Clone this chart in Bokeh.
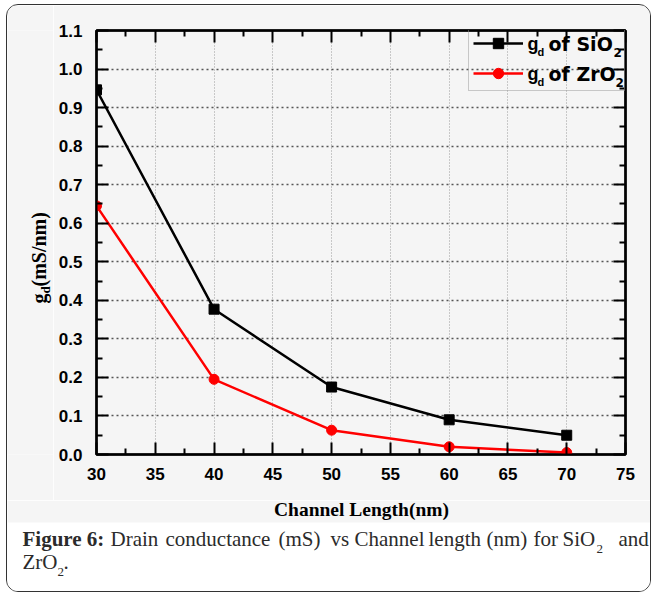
import math
from bokeh.plotting import figure
from bokeh.layouts import column, row
from bokeh.models import (Range1d, LinearAxis, FixedTicker, PrintfTickFormatter,
                          CustomJSTickFormatter, Label, BoxAnnotation, Legend, LegendItem)
from bokeh.embed import file_html
from bokeh.resources import INLINE

# ---- data ----
channel_length = [30, 40, 50, 60, 70]
gd_sio2 = [0.946, 0.377, 0.175, 0.090, 0.050]
gd_zro2 = [0.645, 0.195, 0.063, 0.020, 0.005]
x_ticks = [30, 35, 40, 45, 50, 55, 60, 65, 70, 75]
y_ticks = [0.0, 0.1, 0.2, 0.3, 0.4, 0.5, 0.6, 0.7, 0.8, 0.9, 1.0, 1.1]

BG = "#f5f5f5"
CAP = "#2b2b2b"
K = 0.34   # empirical baseline correction (fraction of font size)

# ---- page layout (page pixel coordinates) ----
OX, OY = 7, 5            # content origin inside the rounded border
CW, CH = 643, 586        # content size
TOP_H = 495              # chart row height (page y 5..500)
YL_W = 46                # y-title strip width (page x 7..53)
FL, FR, FT, FB = 96, 625, 30, 454   # plot frame in page px
X0, X1, Y0, Y1 = 30, 75, 0.0, 1.1


def mx(px):
    return X0 + (px - FL) / (FR - FL) * (X1 - X0)


def my(py):
    return Y0 + (FB - py) / (FB - FT) * (Y1 - Y0)


def lab(fig, s, px, py, size, font="Liberation Serif", style="normal", color=CAP,
        vertical=False, align="left", data=False):
    """Place text whose baseline starts at page pixel (px, py)."""
    if vertical:
        px = px - K * size
    else:
        py = py - K * size
    x, y = (mx(px), my(py)) if data else (px, py)
    fig.add_layout(Label(x=x, y=y, text=s, text_font=font,
                         text_font_size=f"{size}px", text_font_style=style,
                         text_color=color, angle=(math.pi / 2 if vertical else 0.0),
                         text_align=align, text_baseline="alphabetic"))


def page_fig(x0, y0, w, h, fill, top=0, bottom=0):
    """Figure without axes; data coordinates are page pixels."""
    f = figure(width=w, height=h, x_range=Range1d(x0, x0 + w),
               y_range=Range1d(y0 + h - bottom, y0 + top),
               output_backend="svg", toolbar_location=None, min_border=0,
               min_border_top=top, min_border_bottom=bottom,
               x_axis_location=None, y_axis_location=None)
    f.xgrid.visible = False
    f.ygrid.visible = False
    f.outline_line_color = None
    f.background_fill_color = fill
    f.border_fill_color = fill
    return f


# ---- main chart ----
MAIN_X = OX + YL_W
p = figure(width=CW - YL_W, height=TOP_H, x_range=Range1d(X0, X1), y_range=Range1d(Y0, Y1),
           output_backend="svg", toolbar_location=None,
           min_border_left=FL - MAIN_X, min_border_right=OX + CW - FR,
           min_border_top=FT - OY, min_border_bottom=OY + TOP_H - FB)
p.background_fill_color = BG
p.border_fill_color = BG
p.outline_line_color = "black"
p.outline_line_width = 2.5

bottom_axis = p.below[0]
left_axis = p.left[0]

x_minor = [v + 2.5 for v in x_ticks[:-1]]
y_minor = [v + 0.05 for v in y_ticks[:-1]]
xt = FixedTicker(ticks=x_ticks, minor_ticks=x_minor)
yt = FixedTicker(ticks=y_ticks, minor_ticks=y_minor)

blank = CustomJSTickFormatter(code="return ''")
top_axis = LinearAxis(ticker=xt, formatter=blank)
right_axis = LinearAxis(ticker=yt, formatter=blank)
p.add_layout(top_axis, "above")
p.add_layout(right_axis, "right")

bottom_axis.ticker = xt
left_axis.ticker = yt
left_axis.formatter = PrintfTickFormatter(format="%.1f")

for ax in [bottom_axis, left_axis, top_axis, right_axis]:
    ax.axis_line_width = 2
    ax.axis_line_color = "black"
    ax.major_tick_in = 12
    ax.major_tick_out = 0
    ax.minor_tick_in = 6
    ax.minor_tick_out = 0
    ax.major_tick_line_width = 2
    ax.minor_tick_line_width = 2
    ax.major_label_text_font = "Liberation Sans"
    ax.major_label_text_font_style = "bold"
    ax.major_label_text_font_size = "17px"
    ax.major_label_text_color = "black"

for ax in [top_axis, right_axis]:
    ax.major_label_text_font_size = "1px"
    ax.major_label_standoff = 0

bottom_axis.major_label_standoff = 13
left_axis.major_label_standoff = 14

p.xgrid.ticker = xt
p.ygrid.ticker = yt
p.xgrid.grid_line_color = "#9a9a9a"
p.xgrid.grid_line_dash = "1 2"
p.xgrid.grid_line_width = 1
p.ygrid.grid_line_color = "#555555"
p.ygrid.grid_line_dash = "2 3"
p.ygrid.grid_line_width = 1.3

r1 = p.line(channel_length, gd_sio2, line_color="black", line_width=2.5)
s1 = p.scatter(channel_length, gd_sio2, marker="square", size=10,
               fill_color="black", line_color="black")
r2 = p.line(channel_length, gd_zro2, line_color="#ff0000", line_width=2.5)
s2 = p.scatter(channel_length, gd_zro2, marker="circle", size=10,
               fill_color="#ff0000", line_color="#ff0000")

legend = Legend(items=[LegendItem(label=" ", renderers=[r1, s1]),
                       LegendItem(label=" ", renderers=[r2, s2])],
                location=(468 - FL, FB - 91), margin=0, padding=4, spacing=4,
                glyph_width=50, glyph_height=26, label_width=92, label_height=26,
                label_standoff=5, label_text_font_size="2px",
                border_line_color="#9a9a9a", border_line_width=1,
                background_fill_alpha=0)
p.add_layout(legend)

LF = "DejaVu Sans"
for base, chem, sub_x in [(50, "SiO", 613), (80, "ZrO", 615)]:
    lab(p, "g", 527, base, 18, "Liberation Sans", "bold", "black", data=True)
    lab(p, "d", 537, base + 5, 11, "Liberation Sans", "bold", "black", data=True)
    lab(p, "of " + chem, 548, base, 19, LF, "bold", "black", data=True)
    lab(p, "2", sub_x, base + 6, 12, LF, "bold", "black", data=True)

# ---- y-axis title strip (frame aligned with the chart frame) ----
yl = page_fig(OX, OY, YL_W, TOP_H, BG, top=FT - OY, bottom=OY + TOP_H - FB)
lab(yl, "g", 45, 303, 20, style="bold", color="black", vertical=True)
lab(yl, "d", 49, 293, 13, style="bold", color="black", vertical=True)
lab(yl, "(mS/nm)", 45, 286, 20, style="bold", color="black", vertical=True)

# ---- x-axis title + caption ----
cap = page_fig(OX, OY + TOP_H, CW, CH - TOP_H, "white")
cap.add_layout(BoxAnnotation(left=OX, right=OX + CW, top=OY + TOP_H, bottom=522,
                             fill_color=BG, fill_alpha=1, line_color=None))
lab(cap, "Channel Length(nm)", 361, 516, 19.5, style="bold", color="black", align="center")

CS = 21
lab(cap, "Figure 6:", 22, 546, CS, style="bold")
for word, px in [("Drain", 110), ("conductance", 165), ("(mS)", 278), ("vs", 330),
                 ("Channel", 354), ("length", 428), ("(nm)", 486), ("for", 533),
                 ("SiO", 562), ("and", 618)]:
    lab(cap, word, px, 546, CS)
lab(cap, "2", 596, 553, 13)
lab(cap, "ZrO", 22, 569, CS)
lab(cap, "2", 57, 576, 13)
lab(cap, ".", 63, 569, CS)

layout = column(row(yl, p), cap,
                styles={"margin-left": "6px", "margin-top": "4px",
                        "border": "1px solid #333333", "border-radius": "12px",
                        "overflow": "hidden"})

open("out.html", "w").write(file_html(layout, INLINE))
